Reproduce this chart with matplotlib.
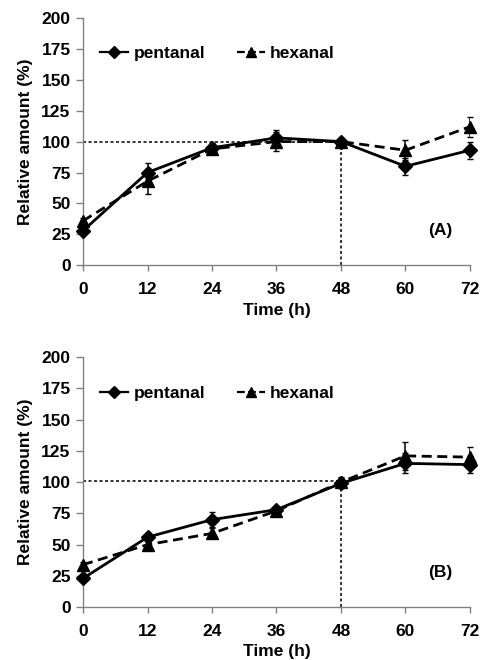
import matplotlib
matplotlib.use("Agg")
import matplotlib.pyplot as plt
from matplotlib.lines import Line2D

plt.rcParams['font.family'] = ['Liberation Sans', 'DejaVu Sans']
plt.rcParams['font.weight'] = 'bold'

time_h = [0, 12, 24, 36, 48, 60, 72]
xticks = [0, 12, 24, 36, 48, 60, 72]
yticks = [0, 25, 50, 75, 100, 125, 150, 175, 200]

# Panel A
pent_A = [28, 75, 95, 103, 100, 80, 93]
pent_A_err = [2, 8, 4, 6, 2, 7, 7]
hex_A = [36, 68, 94, 100, 100, 93, 112]
hex_A_err = [2, 10, 4, 8, 3, 8, 8]

# Panel B
pent_B = [23, 56, 70, 78, 99, 115, 114]
pent_B_err = [2, 2, 6, 2, 4, 8, 7]
hex_B = [34, 50, 59, 77, 100, 121, 120]
hex_B_err = [2, 2, 4, 2, 4, 11, 8]

ref_level_A = 100
ref_level_B = 101
ref_time = 48

FS = 12.5
DASH = (0, (3.6, 2.0))
DOT = (0, (2, 1.6))

fig = plt.figure(figsize=(4.8, 6.6), dpi=100)
axA = fig.add_axes([0.173, 0.598, 0.806, 0.375])
axB = fig.add_axes([0.173, 0.080, 0.806, 0.379])

def draw(ax, pent, pe, hexa, he, ref_level, label):
    ax.plot([0, ref_time], [ref_level, ref_level], color='black', lw=1.1, ls=DOT, zorder=1)
    ax.plot([ref_time, ref_time], [0, ref_level], color='black', lw=1.1, ls=DOT, zorder=1)
    ax.errorbar(time_h, hexa, yerr=he, color='black', lw=2.0, ls=DASH,
                marker='^', ms=8.5, capsize=2.5, elinewidth=1.1, zorder=3)
    ax.errorbar(time_h, pent, yerr=pe, color='black', lw=2.0, ls='-',
                marker='D', ms=7, capsize=2.5, elinewidth=1.1, zorder=4)
    ax.set_xlim(0, 72)
    ax.set_ylim(0, 200)
    ax.set_xticks(xticks)
    ax.set_yticks(yticks)
    ax.tick_params(axis='x', labelsize=FS, color='#808080', direction='out', length=4, width=1, pad=8)
    ax.tick_params(axis='y', labelsize=FS, color='#808080', direction='out', length=5, width=1, pad=4)
    for s in ['top', 'right']:
        ax.spines[s].set_visible(False)
    for s in ['left', 'bottom']:
        ax.spines[s].set_color('#808080')
        ax.spines[s].set_linewidth(1.0)
    for t in ax.get_xticklabels() + ax.get_yticklabels():
        t.set_fontweight('bold')
    ax.set_xlabel('Time (h)', fontsize=FS, fontweight='bold', labelpad=4)
    ax.set_ylabel('Relative amount (%)', fontsize=FS, fontweight='bold', labelpad=6)
    ax.text(0.955, 0.14, label, transform=ax.transAxes, fontsize=FS, fontweight='bold',
            ha='right', va='center')
    handles = [
        Line2D([], [], color='black', lw=1.6, ls='-', marker='D', ms=6),
        Line2D([], [], color='black', lw=1.6, ls=(0, (3.5, 1.5)), marker='^', ms=7),
    ]
    leg = ax.legend(handles, ['pentanal', 'hexanal'], loc='center left',
                    bbox_to_anchor=(0.045, 0.855), ncol=2,
                    frameon=False, fontsize=FS, handlelength=1.6, handletextpad=0.3,
                    columnspacing=1.85, borderaxespad=0, borderpad=0)
    for t in leg.get_texts():
        t.set_fontweight('bold')
    for line in ax.lines:
        line.set_clip_on(False)

draw(axA, pent_A, pent_A_err, hex_A, hex_A_err, ref_level_A, '(A)')
draw(axB, pent_B, pent_B_err, hex_B, hex_B_err, ref_level_B, '(B)')

fig.savefig('out.png', dpi=100)
